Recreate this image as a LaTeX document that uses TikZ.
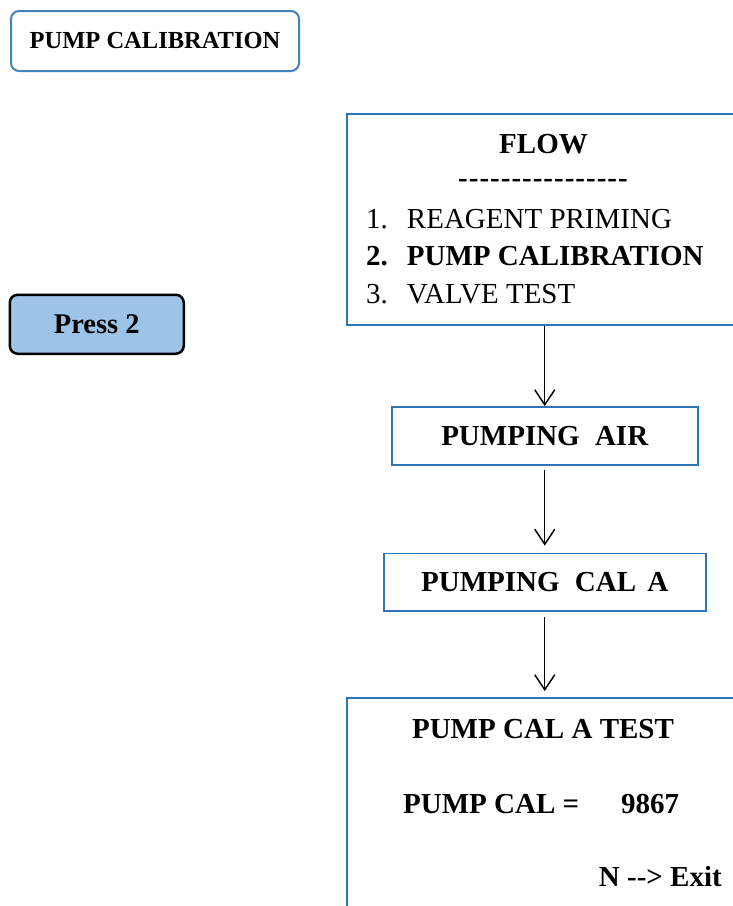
\documentclass[tikz,border=0pt]{standalone}
\usepackage{fontspec}
\setmainfont{Liberation Serif}
\usetikzlibrary{arrows.meta}
\definecolor{boxblue}{HTML}{2E75B6}
\definecolor{keyfill}{HTML}{9DC3E6}
% single hyphens kept apart so they never merge into dashes
\newcommand\hy{\hbox{-}\kern1pt}
\newcommand\hyb{\hbox{-}}
\begin{document}
\begin{tikzpicture}[x=1pt,y=-1pt,
  panel/.style={draw=boxblue,line width=1.5pt,inner sep=0pt,anchor=north west},
  rpanel/.style={panel,rounded corners=8pt,line width=2pt,draw=boxblue!90!white},
  keybox/.style={draw=black,fill=keyfill,line width=2.5pt,rounded corners=8pt,inner sep=0pt,anchor=north west},
  big/.style={font=\fontsize{29}{34}\selectfont\bfseries},
  txt/.style={inner sep=0pt,anchor=base,font=\fontsize{29}{34}\selectfont\bfseries},
  plain/.style={inner sep=0pt,anchor=base west,font=\fontsize{29}{34}\selectfont},
  arr/.style={-{Straight Barb[length=15pt,width=20pt]},line width=1.4pt}]
\useasboundingbox (0,0) rectangle (733,906);
\clip (0,0) rectangle (733,906);

% left-hand labels
\node[rpanel,minimum width=288pt,minimum height=60pt,font=\fontsize{24.5}{28}\selectfont\bfseries] (title) at (10,10) {PUMP CALIBRATION};
\node[keybox,minimum width=174pt,minimum height=59pt,font=\fontsize{28.5}{33}\selectfont\bfseries] (press) at (8.5,293.5) {Press 2\hspace{3pt}};

% menu screen
\node[panel,minimum width=420pt,minimum height=211pt] (flow) at (346,113) {};
\node[txt] (flowhead) at (543.5,153) {FLOW};
\node[txt] (flowrule) at (543,187) {\hy\hy\hy\hy\hy\hy\hy\hy\hy\hy\hy\hy\hy\hy\hy\hyb};
\node[plain] (item1) at (366,228) {1.\hspace{19pt}REAGENT PRIMING};
\node[plain,font=\fontsize{29}{34}\selectfont\bfseries] (item2) at (366,265.5) {2.\hspace{19pt}PUMP CALIBRATION};
\node[plain] (item3) at (366,303) {3.\hspace{19pt}VALVE TEST};

% progress screens
\node[panel,minimum width=306pt,minimum height=58pt,big] (air) at (391,406) {PUMPING\hspace{8pt} AIR};
\node[panel,minimum width=322pt,minimum height=57.5pt,big] (calA) at (383,552.5) {PUMPING\hspace{8pt} CAL\hspace{4pt} A};

% result screen
\node[panel,minimum width=420pt,minimum height=260pt] (test) at (346,697) {};
\node[txt] (testhead) at (543,738) {PUMP CAL A TEST};
\node[txt,anchor=base west] (testval) at (403,813) {PUMP CAL =\hspace{42pt}9867};
\node[txt,anchor=base east] (testexit) at (722,886.5) {N \hyb\hyb> Exit};

% connectors
\draw[arr] (flow.south -| air.north) -- (air.north);
\draw[arr,shorten <=4pt,shorten >=7pt] (air.south) -- (calA.north);
\draw[arr,shorten <=5pt,shorten >=6pt] (calA.south) -- (test.north -| calA.south);
\end{tikzpicture}
\end{document}
